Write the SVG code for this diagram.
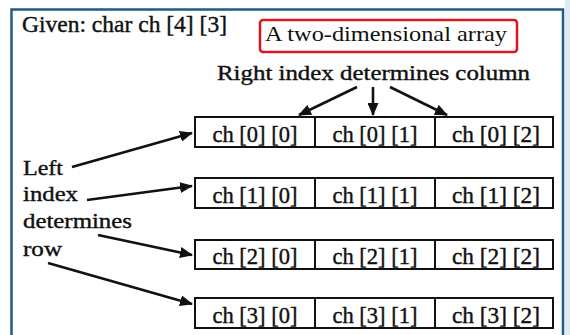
<svg xmlns="http://www.w3.org/2000/svg" width="570" height="335" viewBox="0 0 570 335">
<style>
.t{font-family:"Liberation Serif","Times New Roman",serif;fill:#111;stroke:#111;stroke-width:0.4}
.c{font-size:23px;text-anchor:middle}
.l{font-size:22px}
.box{fill:#fff;stroke:#111;stroke-width:2}
.ln{stroke:#111;stroke-width:2.6;fill:none;marker-end:url(#ah)}
</style>
<defs>
<marker id="ah" viewBox="0 0 13 11" refX="12" refY="5.5" markerWidth="13" markerHeight="11" markerUnits="userSpaceOnUse" orient="auto">
<path d="M0,0 L13,5.5 L0,11 z" fill="#111"/>
</marker>
</defs>
<rect x="0" y="0" width="570" height="335" fill="#fff"/>
<rect x="565" y="0" width="5" height="335" fill="#dfeaf2"/>
<rect x="11.5" y="9.5" width="551.5" height="340" fill="#fff" stroke="#1d5c87" stroke-width="2.5"/>
<g id="title">
<text class="t" x="22" y="32" font-size="23" textLength="205" lengthAdjust="spacingAndGlyphs">Given: char ch [4] [3]</text>
</g>
<g id="label">
<rect x="260" y="20" width="257" height="32" rx="3" fill="#fff" stroke="#e0141e" stroke-width="2.5"/>
<text x="265" y="41" font-family="Liberation Serif, Times New Roman, serif" font-size="22" fill="#111" textLength="242" lengthAdjust="spacingAndGlyphs">A two-dimensional array</text>
</g>
<g id="right-index">
<text class="t" x="217" y="80" font-size="22" textLength="313" lengthAdjust="spacingAndGlyphs" stroke-width="0.7">Right index determines column</text>
</g>
<g id="left-index">
<text class="t l" x="23" y="175" textLength="40" lengthAdjust="spacingAndGlyphs">Left</text>
<text class="t l" x="23" y="201" textLength="55" lengthAdjust="spacingAndGlyphs">index</text>
<text class="t l" x="23" y="228" textLength="109" lengthAdjust="spacingAndGlyphs">determines</text>
<text class="t l" x="23" y="256" textLength="39" lengthAdjust="spacingAndGlyphs">row</text>
</g>
<g id="row0">
<rect class="box" x="195" y="117" width="120" height="30"/>
<rect class="box" x="315" y="117" width="120" height="30"/>
<rect class="box" x="435" y="117" width="118" height="30"/>
<text class="t c" x="255" y="142" textLength="85" lengthAdjust="spacingAndGlyphs">ch [0] [0]</text>
<text class="t c" x="375" y="142" textLength="85" lengthAdjust="spacingAndGlyphs">ch [0] [1]</text>
<text class="t c" x="496" y="142" textLength="88" lengthAdjust="spacingAndGlyphs">ch [0] [2]</text>
</g>
<g id="row1">
<rect class="box" x="195" y="178" width="120" height="30"/>
<rect class="box" x="315" y="178" width="120" height="30"/>
<rect class="box" x="435" y="178" width="118" height="30"/>
<text class="t c" x="255" y="203" textLength="85" lengthAdjust="spacingAndGlyphs">ch [1] [0]</text>
<text class="t c" x="375" y="203" textLength="85" lengthAdjust="spacingAndGlyphs">ch [1] [1]</text>
<text class="t c" x="496" y="203" textLength="88" lengthAdjust="spacingAndGlyphs">ch [1] [2]</text>
</g>
<g id="row2">
<rect class="box" x="195" y="240" width="120" height="29"/>
<rect class="box" x="315" y="240" width="120" height="29"/>
<rect class="box" x="435" y="240" width="118" height="29"/>
<text class="t c" x="255" y="264" textLength="85" lengthAdjust="spacingAndGlyphs">ch [2] [0]</text>
<text class="t c" x="375" y="264" textLength="85" lengthAdjust="spacingAndGlyphs">ch [2] [1]</text>
<text class="t c" x="496" y="264" textLength="88" lengthAdjust="spacingAndGlyphs">ch [2] [2]</text>
</g>
<g id="row3">
<rect class="box" x="195" y="298" width="120" height="30"/>
<rect class="box" x="315" y="298" width="120" height="30"/>
<rect class="box" x="435" y="298" width="118" height="30"/>
<text class="t c" x="255" y="323" textLength="85" lengthAdjust="spacingAndGlyphs">ch [3] [0]</text>
<text class="t c" x="375" y="323" textLength="85" lengthAdjust="spacingAndGlyphs">ch [3] [1]</text>
<text class="t c" x="496" y="323" textLength="88" lengthAdjust="spacingAndGlyphs">ch [3] [2]</text>
</g>
<g id="connectors">
<line class="ln" x1="357" y1="87" x2="299" y2="115"/>
<line class="ln" x1="373" y1="87" x2="373" y2="115"/>
<line class="ln" x1="390" y1="87" x2="447" y2="115"/>
<line class="ln" x1="72" y1="167" x2="192" y2="133"/>
<line class="ln" x1="87" y1="200" x2="192" y2="186"/>
<line class="ln" x1="98" y1="235" x2="192" y2="255"/>
<line class="ln" x1="48" y1="263" x2="192" y2="304"/>
</g>
</svg>
